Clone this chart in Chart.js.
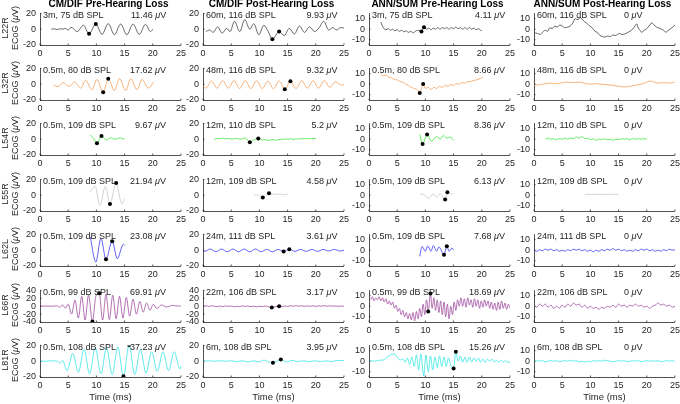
<!DOCTYPE html>
<html><head><meta charset="utf-8">
<script src="https://cdn.jsdelivr.net/npm/chart.js@4/dist/chart.umd.min.js"></script>
<style>
body{margin:0;background:#fff;width:680px;height:404px;overflow:hidden;position:relative;font-family:"Liberation Sans",Arial,Helvetica,sans-serif;color:#262626}
canvas{position:absolute}
.t{position:absolute;white-space:nowrap;font-size:9px;line-height:10px;z-index:5}
.ttl{position:absolute;white-space:nowrap;font-size:10px;font-weight:bold;line-height:10px;transform:translateX(-50%);color:#000}
.yl{position:absolute;white-space:nowrap;font-size:9px;line-height:10px;transform:translate(-50%,-50%) rotate(-90deg);}
.xl{position:absolute;white-space:nowrap;font-size:9.5px;line-height:10px;transform:translateX(-50%)}
i{font-style:italic}
</style></head><body>
<script>
// ---------------- DATA ----------------
const subjects = ["L22R","L32R","L54R","L55R","L62L","L66R","L81R"];
const columnTitles = ["CM/DIF Pre-Hearing Loss","CM/DIF Post-Hearing Loss","ANN/SUM Pre-Hearing Loss","ANN/SUM Post-Hearing Loss"];
const condPre  = ["3m, 75 dB SPL","0.5m, 80 dB SPL","0.5m, 109 dB SPL","0.5m, 109 dB SPL","0.5m, 109 dB SPL","0.5m, 99 dB SPL","0.5m, 108 dB SPL"];
const condPost = ["60m, 116 dB SPL","48m, 116 dB SPL","12m, 110 dB SPL","12m, 109 dB SPL","24m, 111 dB SPL","22m, 106 dB SPL","6m, 108 dB SPL"];
const ampCmPre   = ["11.46","17.62","9.67","21.94","23.08","69.91","37.23"];
const ampCmPost  = ["9.93","9.32","5.2","4.58","3.61","3.17","3.95"];
const ampAnnPre  = ["4.11","8.66","8.36","6.13","7.68","18.69","15.26"];
const ampAnnPost = ["0","0","0","0","0","0","0"];
const xTicks = [0,5,10,15,20,25];
const yTicksCm = [-20,0,20];
const yTicksCmBig = [-40,-20,0,20,40];
const yTicksAnn = [-10,0,10];

// Row 1: L22R
const cmPre_L22R = [[2,0],[2.5,0.5],[3,-0.5],[3.5,0.5],[4,0],[4.5,1],[5,-1],[5.5,2.5],[6.6,-3],[7.7,5],[8.7,-5.8],[9.9,6.5],[11,-6.5],[12.1,7],[13.2,-7],[14.3,6.5],[15.4,-7],[16.5,6.5],[17.6,-6.5],[18.7,6],[19.6,-3],[20,0]];
const cmPost_L22R = [[0.5,-3],[1.2,-1],[1.8,-4],[2.6,3],[3.4,-5],[4.2,1],[4.8,-3],[5.6,10],[6.5,-3],[7.4,12],[8.3,0],[9,7],[9.9,-7],[10.8,5],[11.5,-2],[12.3,-12.7],[13.5,-3],[14.4,-8],[15.3,1],[16.2,-6],[17.1,4],[18,-4],[18.9,3],[19.8,-3],[20.6,2],[21.4,10],[22.3,-1],[23,2],[23.7,-1],[24.4,2],[25,1.5]];
const annPre_L22R = [[2.1,6.7],[2.3,4],[2.6,1],[3,-0.5],[3.4,0.5],[3.8,-1],[4.2,0],[4.6,-1.5],[5,-0.5],[5.4,-2],[5.8,-1],[6.2,-2.5],[6.6,-1.5],[7,-3],[7.4,-2],[7.8,-3.5],[8.2,-2],[8.6,-1],[9,-1.5],[9.3,-2.2],[9.75,1.9],[10.2,0],[10.6,1],[11,-0.5],[11.4,1],[11.8,0],[12.2,1.5],[12.6,0],[13,1.5],[13.4,0.5],[13.8,1.5],[14.2,0],[14.6,1.5],[15,0.5],[15.4,2],[15.8,0.5],[16.2,1.5],[16.6,0],[17,1.5],[17.4,0],[17.8,1.5],[18.2,0],[18.6,1],[19,-0.5],[19.4,0.5],[19.8,-1],[20,-1.5]];
const annPost_L22R = [[0.2,-3.5],[0.6,-4],[1.1,-5],[1.5,-3],[2,-1],[2.4,-2],[2.8,1.4],[3.2,0.5],[3.7,3],[4.1,2],[4.6,4],[5,3],[5.5,1.4],[6,2],[6.4,3],[6.9,6],[7.3,10],[7.8,9],[8.2,11],[8.6,9],[9,7],[9.5,5],[9.9,3],[10.4,1],[10.8,-2],[11.2,-3],[11.7,-6],[12.2,-7],[12.6,-7.5],[13,-6.5],[13.5,-7],[14,-5.5],[14.4,-6],[14.8,-5],[15.2,-4],[15.6,-5],[16.1,-4.5],[16.5,-3.5],[17,-2],[17.5,0],[17.9,3],[18.2,5],[18.5,1],[18.8,-1],[19.1,-3],[19.5,-1],[19.9,0],[20.4,3],[20.9,6],[21.3,4],[21.7,2],[22.2,1],[22.6,0],[23,-1],[23.4,-3],[23.8,-1],[24.1,0],[24.6,2],[25,4]];
// Row 2: L32R
const cmPre_L32R = [[2.4,-1],[3.2,-3],[4.1,2],[5.2,-3],[6.1,3],[7.2,-5],[8.1,5],[9.2,-7],[10.1,6],[11.2,-10.2],[12.1,6.8],[13.2,-8],[14.1,7],[15.2,-8],[16.1,7],[17.2,-7],[18.1,6],[19.2,-5],[20.2,3]];
const cmPost_L32R = [[0,-2],[0.5,-5],[1.5,4],[2.5,-5],[3.5,4.5],[4.5,-5],[5.5,4.5],[6.5,-5.5],[7.5,4.5],[8.5,-5.5],[9.5,4.5],[10.5,-5.5],[11.5,4],[12.5,-5.5],[13.5,4],[14.5,-6.4],[15.5,3.8],[16.5,-5.5],[17.5,4.5],[18.5,-5],[19.5,4.5],[20.5,-5],[21.5,4.5],[22.5,-4],[23.5,3],[24.5,-1],[25,0]];
const annPre_L32R = [[2.1,10],[2.5,8],[3,8.5],[3.5,6.5],[4,6],[4.5,4.5],[5,4],[5.5,2.5],[6,2],[6.5,0],[7,-1],[7.5,-3],[8,-4],[8.5,-5],[9,-8.4],[9.3,-4],[9.6,0.3],[10,-4],[10.5,-3],[11,-5],[11.5,-3],[12,-4],[12.5,-2],[13,-3],[13.5,-1],[14,-2],[14.5,-0.5],[15,-1],[15.5,0.5],[16,0],[16.5,1.5],[17,1],[17.5,2.5],[18,2.5],[18.5,3.5],[19,4],[19.5,5],[20,6],[20.2,7]];
const annPost_L32R = [[0,-1],[1,-0.5],[2,0.5],[3,1],[4,0.5],[5,1.5],[6,2],[7,1.5],[8,2],[9,1],[10,0],[11,0.5],[12,0],[13,-0.5],[14,-1],[15,-2],[16,-2.5],[17,-2],[18,-1],[19,0],[20,2],[20.5,3],[21,2.5],[22,1],[23,1.5],[24,1],[25,2]];
// Row 3: L54R
const cmPre_L54R = [[8.9,5.2],[9.4,2],[10.1,-5.2],[10.9,4.1],[11.8,-1],[12.3,1],[12.7,1.7],[13.1,0],[13.5,0],[14,1.5],[14.3,1.7],[14.6,0.5],[15,0.5]];
const cmPost_L54R = [[2,0],[2.5,1],[3,0.5],[3.5,1.5],[4,0.5],[4.5,1],[5,0],[5.5,0.5],[6,1],[6.5,0],[7,0.5],[7.5,1.5],[8.3,-4],[9,-1],[9.8,1],[10.5,-1],[11,-0.5],[11.5,-1.5],[12,-1],[12.5,-0.5],[13,-1.5],[13.5,0],[14,-0.5],[14.5,0.5],[15,0],[15.5,0.5],[16,-0.5],[16.5,0.5],[17,0],[17.5,1],[18,0.5],[18.5,1],[19,0.5],[19.5,1],[20,1]];
const annPre_L54R = [[9,4.5],[9.5,-4.6],[10.3,4.5],[11.1,-2],[12,2.5],[12.6,0],[13.2,3.5],[13.8,1],[14.4,2],[15,-1]];
const annPost_L54R = [[2,0],[2.5,1],[3,0],[3.5,0.5],[4,-0.5],[4.5,0.5],[5,0],[5.5,1],[6,0],[6.5,1],[7,0.5],[7.5,2],[8,1],[8.5,2.5],[9,0.5],[9.5,1],[10,-0.5],[10.5,0.5],[11,-1],[11.5,0],[12,-0.5],[12.5,0.5],[13,-0.5],[13.5,0],[14,-1],[14.5,0],[15,-0.5],[15.5,0.5],[16,0],[16.5,0.5],[17,-0.5],[17.5,0.5],[18,0],[18.5,0.5],[19,0],[19.5,0.5],[20,0]];
// Row 4: L55R
const cmPre_L55R = [[8.9,4.4],[9.8,11],[10.6,-13],[11.6,11],[12.4,-11],[13.5,15.5],[14.5,-11],[15,-4]];
const cmPost_L55R = [[9,0],[9.5,0.5],[10,0],[10.6,-3],[11.2,0],[11.7,2.6],[12.2,1],[12.7,1.5],[13.2,1],[13.7,1.5],[14.2,0.5],[14.7,1],[15,1]];
const annPre_L55R = [[9,1.3],[9.9,0],[10.5,-3],[11.4,1],[12,-2],[12.6,1.5],[13.5,-4],[13.9,2.7],[14.6,1],[15,1.5]];
const annPost_L55R = [[9,0.5],[9.5,1],[10,0.5],[10.5,1],[11,0.5],[11.5,1],[12,0.5],[12.5,1],[13,0.5],[13.5,1],[14,0.5],[14.5,1],[15,0.5]];
// Row 5: L62L
const cmPre_L62L = [[8.9,17],[9.9,-15],[10.8,15],[11.7,-11.4],[12.8,11.4],[13.7,-10.7],[14.8,7.6],[15,6]];
const cmPost_L62L = [[0,0],[0.3,-1.5],[1.3,1.5],[2.3,-2],[3.3,1.5],[4.3,-2],[5.3,1.5],[6.3,-2],[7.3,1.5],[8.3,-2],[9.3,1.5],[10.3,-2],[11.3,1],[12.3,-2],[13.3,1],[14.3,-1.8],[15.3,1.2],[16.3,-1.5],[17.3,1],[18.3,-1.5],[19.3,1],[20.3,-1.5],[21.3,1],[22.3,-1],[23.3,1],[24.3,-1],[25,0]];
const annPre_L62L = [[9,-5.8],[9.4,3.5],[10,-1],[10.4,4],[11,-1],[11.4,4.3],[12,-1],[12.4,3],[13.3,-4.3],[13.8,3.7],[14.2,-1],[14.7,2],[15,0]];
const annPost_L62L = [[0,0],[0.5,-1],[1,0.5],[1.5,-0.5],[2,1],[2.5,0],[3,1],[3.5,-0.5],[4,0.5],[4.5,-1],[5,0],[5.5,-1],[6,0.5],[6.5,-0.5],[7,1],[7.5,0],[8,1],[8.5,-0.5],[9,0.5],[9.5,-1],[10,0],[10.5,-1.5],[11,0],[11.5,-1],[12,0.5],[12.5,-0.5],[13,1],[13.5,0],[14,1.5],[14.5,0],[15,1],[15.5,-0.5],[16,0.5],[16.5,-1],[17,0],[17.5,-1],[18,0.5],[18.5,-0.5],[19,1],[19.5,0],[20,1],[20.5,-0.5],[21,0.5],[21.5,-1],[22,0],[22.5,-1],[23,0.5],[23.5,-0.5],[24,1],[24.5,0],[25,0.5]];
// Row 6: L66R
const cmPre_L66R = [[0,0],[1,0.5],[2,0],[3,1],[3.5,-3],[4,3],[4.5,-5],[5,5],[5.6,-20],[6.2,15],[6.8,-30],[7.4,25],[8,-35],[8.6,28],[9.3,-39],[9.9,25],[10.5,33],[11.1,-35],[11.7,30],[12.3,-34],[12.9,28],[13.5,-32],[14.1,25],[14.7,-30],[15.3,22],[15.9,-25],[16.5,18],[17.1,-20],[17.7,12],[18.3,-15],[18.9,8],[19.5,-10],[20.1,5],[20.7,-6],[21.5,3],[22.5,-2],[23.5,2],[24.5,0],[25,1]];
const cmPost_L66R = [[0,0],[0.5,1],[1,-0.5],[1.5,1],[2,0],[2.5,-1],[3,0.5],[3.5,-1],[4,1],[4.5,-0.5],[5,0.5],[5.5,-1.5],[6,0],[6.5,-1],[7,1],[7.5,-0.5],[8,0.5],[8.5,-1],[9,0],[9.5,-1.5],[10,0],[10.5,-1],[11,0.5],[11.5,-1],[12.2,-3.5],[12.8,-1],[13.5,0],[14,-1],[14.5,0.5],[15,-0.5],[15.5,1],[16,0],[16.5,1.5],[17,0],[17.5,1],[18,-0.5],[18.5,1],[19,0],[19.5,1],[20,-0.5],[20.5,1],[21,0],[21.5,1.5],[22,0],[22.5,1],[23,0],[23.5,0.5],[24,-0.5],[24.5,0.5],[25,0]];
const annPre_L66R = [[0.3,6],[0.6,9],[0.9,5],[1.2,8],[1.5,6],[1.8,9],[2.1,5],[2.4,8],[2.7,4],[3,7],[3.3,2],[3.6,5],[3.9,1],[4.2,4],[4.5,-2],[4.8,1],[5.1,-5],[5.4,-2],[5.7,-8],[6,-4],[6.3,-10],[6.6,-6],[6.9,-12],[7.2,-7],[7.5,-13],[7.8,-6],[8.1,-14],[8.4,-5],[8.7,-12],[9,-2],[9.3,-10],[9.6,2],[9.9,-8],[10.2,6],[10.5,-5],[10.9,12],[11.2,-2],[11.5,8],[11.8,-4],[12.1,6],[12.4,-6],[12.7,5],[13,-8],[13.3,4],[13.6,-10],[13.9,2],[14.2,-12],[14.5,0],[14.8,-8],[15.1,4],[15.4,-4],[15.7,6],[16,0],[16.3,8],[16.6,0],[16.9,7],[17.2,-1],[17.5,8],[17.8,1],[18.1,6],[18.4,-1],[18.7,7],[19,0],[19.3,6],[19.6,-2],[19.9,5],[20.2,-1],[20.5,6],[20.8,0],[21.1,5],[21.4,-2],[21.7,4],[22,-3],[22.3,3],[22.6,-4],[22.9,4],[23.2,-3],[23.5,5],[23.8,-2],[24.1,3],[24.4,-3],[24.7,2],[25,-2]];
const annPost_L66R = [[0,1],[0.5,-1],[1,2],[1.5,0],[2,2],[2.5,-1],[3,1],[3.5,-2],[4,0],[4.5,-2],[5,1],[5.5,-1],[6,2],[6.5,0],[7,3],[7.5,1],[8,2],[8.5,-1],[9,1],[9.5,-2],[10,0],[10.5,-2],[11,-1],[11.5,-3],[12,-1],[12.5,-2],[13,0],[13.5,-1],[14,1],[14.5,-1],[15,2],[15.5,0],[16,1],[16.5,-1],[17,1],[17.5,0],[18,2],[18.5,0],[19,1],[19.5,-1],[20,0],[20.5,-2],[21,0],[21.5,1],[22,3],[22.5,1],[23,2],[23.5,0],[24,1],[24.5,-1],[25,0]];
// Row 7: L81R
const cmPre_L81R = [[0,0],[1,0],[2,0.5],[3,0],[3.5,-2],[4,1],[4.8,-12],[5.8,10],[6.8,-14],[7.8,15],[8.8,-16],[9.8,17],[10.8,-16],[11.8,17],[12.8,-17],[13.8,18],[14.8,-19],[15.8,20.5],[16.8,-17],[17.8,15],[18.8,-15],[19.8,12],[20.8,-13],[21.8,12],[22.8,-12],[23.8,12],[24.8,-10],[25,-6]];
const cmPost_L81R = [[0,0],[1,0.5],[2,0],[3,0.5],[4,0],[5,0.5],[6,-0.5],[7,0.5],[8,-1],[9,0.5],[10,-1],[10.8,1.5],[11.6,-1],[12.4,-2],[13.8,2],[14.8,-1],[15.8,1],[16.8,-0.5],[17.8,0.5],[18.8,-0.5],[19.8,0.5],[20.8,-0.5],[21.8,0.5],[22.8,-0.5],[23.8,1],[25,0.5]];
const annPre_L81R = [[0,0],[0.5,0.5],[1,0],[1.5,0.5],[2,1],[2.5,1],[3,3],[3.5,5],[4,6.5],[4.5,7],[5,4],[5.5,1],[6,2],[6.4,-1],[6.8,3],[7.2,-3],[7.6,4],[8,-5],[8.4,6],[8.8,-8],[9.2,7],[9.7,-14],[10.1,6],[10.5,-10],[10.9,5],[11.3,-8],[11.7,4],[12.1,-6],[12.5,5],[12.9,-5],[13.3,4],[13.7,-5],[14.1,3],[14.5,-4],[15,-6.9],[15.4,8.9],[15.8,0],[16.2,5],[16.6,-1],[17,4],[17.4,-1],[17.8,4],[18.2,-1],[18.6,3],[19,0],[19.4,3],[19.8,-1],[20.2,2],[20.6,-1],[21,2],[21.4,0],[21.8,2],[22.2,-1],[22.6,1],[23,-1],[23.4,1],[23.8,-1],[24.2,0.5],[24.6,-1],[25,-1]];
const annPost_L81R = [[0,0],[0.5,0.5],[1,0],[1.5,0.5],[2,-0.5],[2.5,0],[3,0.5],[3.5,0],[4,0.5],[4.5,-0.5],[5,0],[5.5,0.5],[6,0],[6.5,1],[7,0],[7.5,0.5],[8,-0.5],[8.5,0],[9,-1],[9.5,0],[10,-0.5],[10.5,0.5],[11,0],[11.5,0.5],[12,0],[12.5,1],[13,0.5],[13.5,0],[14,-0.5],[14.5,0],[15,0.5],[15.5,0],[16,0.5],[16.5,-0.5],[17,0],[17.5,0.5],[18,0],[18.5,0.5],[19,-0.5],[19.5,0],[20,0.5],[20.5,0],[21,0.5],[21.5,0],[22,0.5],[22.5,-0.5],[23,0],[23.5,0.5],[24,0],[24.5,0.5],[25,0]];

// Marker points (peak / trough picks)
const mkCmPre   = [[[8.7,-5.8],[9.9,6.5]],[[11.2,-10.2],[12.1,6.8]],[[10.1,-5.2],[10.9,4.1]],[[12.4,-11],[13.5,15.5]],[[11.7,-11.4],[12.8,11.4]],[[9.3,-39],[10.5,33]],[[14.8,-19],[15.8,20.5]]];
const mkCmPost  = [[[12.3,-12.7],[13.5,-3]],[[14.5,-6.4],[15.5,3.8]],[[8.3,-4],[9.8,1]],[[10.6,-3],[11.7,2.6]],[[14.3,-1.8],[15.3,1.2]],[[12.2,-3.5],[13.5,0]],[[12.4,-2],[13.8,2]]];
const mkAnnPre  = [[[9.3,-2.2],[9.75,1.9]],[[9,-8.4],[9.6,0.3]],[[9.5,-4.6],[10.3,4.5]],[[13.5,-4],[13.9,2.7]],[[13.3,-4.3],[13.8,3.7]],[[10.5,-5],[10.9,12]],[[15,-6.9],[15.4,8.9]]];

const rowColors = ["#404040","#F5A05A","#3BE83B","#C8C8C8","#3A3AF5","#A04CA0","#38E6E6"];

// ---------------- LAYOUT ----------------
const colLeft = [40,203,369,534], plotW = 141, plotH = 35;
const rowTop = [10,65,120,176,231,287,342];
const ampRight = [166,337.5,505,642];
const PADL = 38, PADT = 6, PADR = 8, PADB = 14;

const series = [
  [cmPre_L22R,cmPost_L22R,annPre_L22R,annPost_L22R],
  [cmPre_L32R,cmPost_L32R,annPre_L32R,annPost_L32R],
  [cmPre_L54R,cmPost_L54R,annPre_L54R,annPost_L54R],
  [cmPre_L55R,cmPost_L55R,annPre_L55R,annPost_L55R],
  [cmPre_L62L,cmPost_L62L,annPre_L62L,annPost_L62L],
  [cmPre_L66R,cmPost_L66R,annPre_L66R,annPost_L66R],
  [cmPre_L81R,cmPost_L81R,annPre_L81R,annPost_L81R]
];
const markers = [mkCmPre, mkCmPost, mkAnnPre, null];
const conds = [condPre, condPost, condPre, condPost];
const amps = [ampCmPre, ampCmPost, ampAnnPre, ampAnnPost];

const FONT = '"Liberation Sans", Arial, Helvetica, sans-serif';
const AX = '#262626';

const inTicks = {id:'inTicks', afterDraw(c){
  const {ctx, chartArea:a, scales:{x,y}} = c;
  ctx.save(); ctx.strokeStyle = AX; ctx.lineWidth = 0.8; ctx.beginPath();
  x.ticks.forEach(t=>{const p = x.getPixelForValue(t.value); ctx.moveTo(p,a.bottom); ctx.lineTo(p,a.bottom-1.5);});
  y.ticks.forEach(t=>{const p = y.getPixelForValue(t.value); ctx.moveTo(a.left,p); ctx.lineTo(a.left+1.5,p);});
  ctx.stroke(); ctx.restore();
}};

function addDiv(cls, html, left, top, extra){
  const d = document.createElement('div'); d.className = cls; d.innerHTML = html;
  d.style.left = left+'px'; d.style.top = top+'px';
  if (extra) Object.assign(d.style, extra);
  document.body.appendChild(d); return d;
}

for (let r=0; r<7; r++){
  for (let c=0; c<4; c++){
    const cv = document.createElement('canvas');
    const W = PADL+plotW+PADR, H = PADT+plotH+PADB;
    cv.width = W; cv.height = H;
    cv.style.left = (colLeft[c]-PADL)+'px'; cv.style.top = (rowTop[r]-PADT)+'px';
    cv.style.width = W+'px'; cv.style.height = H+'px';
    document.body.appendChild(cv);
    const isAnn = c>=2;
    const big = (!isAnn && r===5);
    const yr = isAnn ? 15 : (big ? 40 : 20);
    const yt = isAnn ? yTicksAnn : (big ? yTicksCmBig : yTicksCm);
    const ds = [{
      data: series[r][c].map(p=>({x:p[0],y:p[1]})),
      borderColor: rowColors[r], borderWidth: 0.8, pointRadius: 0,
      cubicInterpolationMode: 'monotone', fill: false, order: 2
    }];
    if (markers[c]) ds.push({
      data: markers[c][r].map(p=>({x:p[0],y:p[1]})),
      showLine: false, pointRadius: 2, pointBackgroundColor: '#000', pointBorderWidth: 0, order: 1
    });
    new Chart(cv, {
      type: 'line',
      data: {datasets: ds},
      options: {
        responsive: false, animation: false, devicePixelRatio: 1, events: [],
        layout: {autoPadding: false, padding: {left:0, top:PADT, right:PADR, bottom:0}},
        plugins: {legend:{display:false}, tooltip:{enabled:false}},
        scales: {
          x: {type:'linear', min:0, max:25,
              afterFit: s=>{s.height = PADB;},
              afterBuildTicks: s=>{s.ticks = xTicks.map(v=>({value:v}));},
              grid:{display:false, drawTicks:false, tickLength:0}, border:{display:true, color:AX, width:0.8},
              ticks:{padding:3, color:AX, font:{family:FONT, size:9}, maxRotation:0, autoSkip:false}},
          y: {type:'linear', min:-yr, max:yr,
              afterFit: s=>{s.width = PADL;},
              afterBuildTicks: s=>{s.ticks = yt.map(v=>({value:v}));},
              grid:{display:false, drawTicks:false, tickLength:0}, border:{display:true, color:AX, width:0.8},
              ticks:{padding:4, color:AX, font:{family:FONT, size:9}, autoSkip:false}}
        }
      },
      plugins: [inTicks]
    });
    // annotations
    addDiv('t', conds[c][r], colLeft[c]+3, rowTop[r]+0);
    const a = addDiv('t', amps[c][r]+' <i>μ</i>V', 0, rowTop[r]+0);
    a.style.left = (ampRight[c] - a.offsetWidth)+'px';
  }
  // y labels
  const cy = rowTop[r] + plotH/2;
  addDiv('yl', subjects[r], 5, cy);
  addDiv('yl', 'ECoG (<i>μ</i>V)', 15, cy);
}
for (let c=0; c<4; c++){
  addDiv('ttl', columnTitles[c], colLeft[c]+plotW/2-2, -1);
  addDiv('xl', 'Time (ms)', colLeft[c]+plotW/2, 392);
}
</script>
</body></html>
